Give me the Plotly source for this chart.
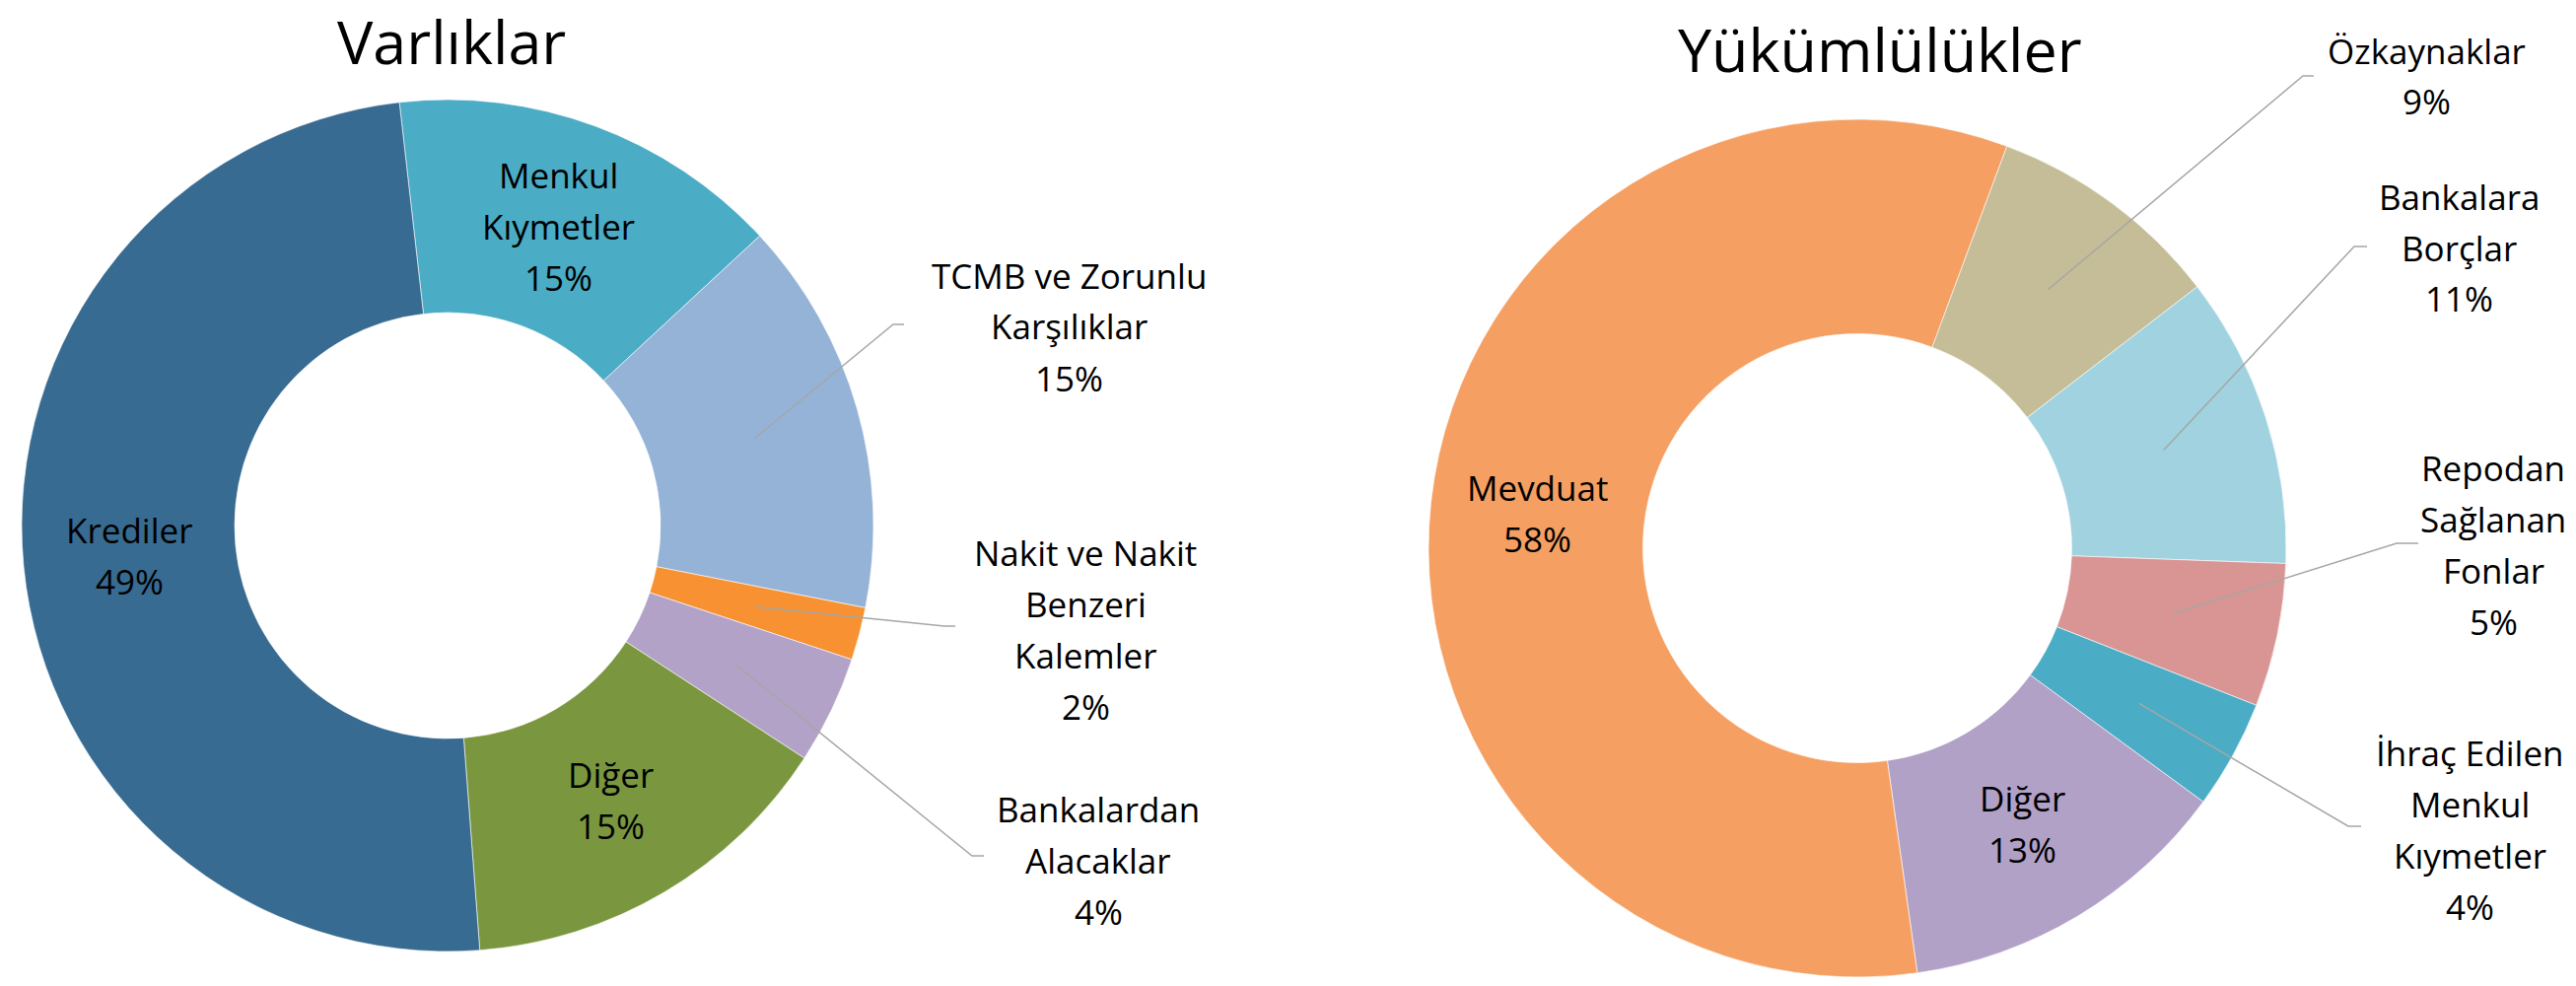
import math
import plotly.graph_objects as go

W, H = 2613, 1000

# ---------------- data ----------------
assets_labels = ["Menkul Kıymetler", "TCMB ve Zorunlu Karşılıklar", "Nakit ve Nakit Benzeri Kalemler",
                 "Bankalardan Alacaklar", "Diğer", "Krediler"]
assets_lines = [["Menkul", "Kıymetler"], ["TCMB ve Zorunlu", "Karşılıklar"], ["Nakit ve Nakit", "Benzeri", "Kalemler"],
                ["Bankalardan", "Alacaklar"], ["Diğer"], ["Krediler"]]
assets_values = [14.9, 15.0, 2.0, 4.1, 14.6, 49.4]
assets_colors = ["#4BACC6", "#95B3D7", "#F79131", "#B3A2C7", "#7A9740", "#386B91"]

liab_labels = ["Özkaynaklar", "Bankalara Borçlar", "Repodan Sağlanan Fonlar",
               "İhraç Edilen Menkul Kıymetler", "Diğer", "Mevduat"]
liab_lines = [["Özkaynaklar"], ["Bankalara", "Borçlar"], ["Repodan", "Sağlanan", "Fonlar"],
              ["İhraç Edilen", "Menkul", "Kıymetler"], ["Diğer"], ["Mevduat"]]
liab_values = [8.9, 11.0, 5.4, 4.1, 12.7, 57.9]
liab_colors = ["#C4BD97", "#A0D2E0", "#D99594", "#4BACC6", "#B2A1C7", "#F5A062"]

# ---------------- layout config ----------------
FONT = "Open Sans"
LABEL_SIZE = 35
LINE_GAP = 52
LEADER_COLOR = "#A6A6A6"

charts = [
    dict(title="Varlıklar", title_xy=(458, 41), center=(454, 533), radius=432, rotation=-6.5,
         labels=assets_labels, lines=assets_lines, values=assets_values, colors=assets_colors,
         # outside labels: index -> (label center x, first line center y, elbow point, end point)
         outside={1: (1084, 279, (906, 329), (917, 329)),
                  2: (1101, 560, (958, 635), (969, 635)),
                  3: (1114, 820, (986, 868), (998, 868))}),
    dict(title="Yükümlülükler", title_xy=(1907, 49), center=(1884, 556), radius=435, rotation=20.4,
         labels=liab_labels, lines=liab_lines, values=liab_values, colors=liab_colors,
         outside={0: (2461, 51, (2336, 77), (2347, 77)),
                  1: (2494, 199, (2388, 250), (2401, 250)),
                  2: (2529, 474, (2431, 551), (2453, 551)),
                  3: (2505, 763, (2382, 838), (2395, 838))}),
]


def px(x):
    return x / W


def py(y):
    return 1 - y / H


fig = go.Figure()
annotations = []
shapes = []

for ch in charts:
    cx, cy = ch["center"]
    r = ch["radius"]
    fig.add_trace(go.Pie(
        labels=ch["labels"], values=ch["values"], hole=0.5, sort=False,
        direction="clockwise", rotation=ch["rotation"],
        marker=dict(colors=ch["colors"], line=dict(color="white", width=0.6)),
        textinfo="none", hoverinfo="label+percent", showlegend=False,
        domain=dict(x=[px(cx - r), px(cx + r)], y=[py(cy + r), py(cy - r)]),
    ))
    # title
    tx, ty = ch["title_xy"]
    annotations.append(dict(text=ch["title"], x=px(tx), y=py(ty), xref="paper", yref="paper",
                            xanchor="center", yanchor="middle", showarrow=False,
                            font=dict(family=FONT, size=61, color="black")))
    total = sum(ch["values"])
    cum = 0.0
    for i, (v, lines) in enumerate(zip(ch["values"], ch["lines"])):
        mid = math.radians(ch["rotation"] + 360 * (cum + v / 2) / total)
        cum += v
        pct = f"{round(100 * v / total)}%"
        all_lines = lines + [pct]
        ax = cx + 0.75 * r * math.sin(mid)
        ay = cy - 0.75 * r * math.cos(mid)
        if i in ch["outside"]:
            lx, ly0, elbow, end = ch["outside"][i]
            shapes.append(dict(type="path", xref="paper", yref="paper",
                               path=f"M {px(ax)},{py(ay)} L {px(elbow[0])},{py(elbow[1])} L {px(end[0])},{py(end[1])}",
                               line=dict(color=LEADER_COLOR, width=1.5)))
            ys = [ly0 + k * LINE_GAP for k in range(len(all_lines))]
            xs = lx
        else:
            n = len(all_lines)
            ys = [ay + (k - (n - 1) / 2) * LINE_GAP for k in range(n)]
            xs = ax
        for t, yy in zip(all_lines, ys):
            annotations.append(dict(text=t, x=px(xs), y=py(yy), xref="paper", yref="paper",
                                    xanchor="center", yanchor="middle", showarrow=False,
                                    font=dict(family=FONT, size=LABEL_SIZE, color="black")))

fig.update_layout(width=W, height=H, margin=dict(l=0, r=0, t=0, b=0),
                  paper_bgcolor="white", plot_bgcolor="white",
                  annotations=annotations, shapes=shapes)

fig.write_html("out.html", config={"displayModeBar": False},
               post_script="document.body.style.margin='0px';document.body.style.overflow='hidden';")
